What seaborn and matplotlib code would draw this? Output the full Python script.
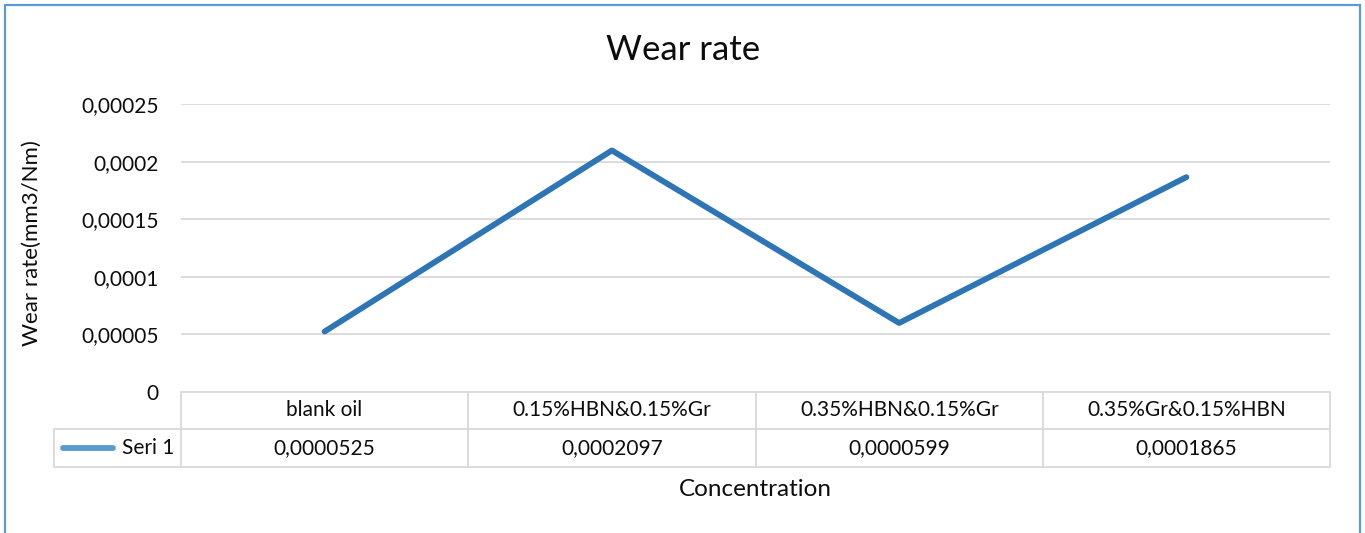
import numpy as np
import pandas as pd
import seaborn as sns
import matplotlib.pyplot as plt
from matplotlib.lines import Line2D
from matplotlib.patches import Rectangle

# data
categories = ['blank oil', '0.15%HBN&0.15%Gr', '0.35%HBN&0.15%Gr', '0.35%Gr&0.15%HBN']
wear_rate = [0.0000525, 0.0002097, 0.0000599, 0.0001865]
table_values = ['0,0000525', '0,0002097', '0,0000599', '0,0001865']
y_ticks = [0, 0.00005, 0.0001, 0.00015, 0.0002, 0.00025]
y_tick_labels = ['0', '0,00005', '0,0001', '0,00015', '0,0002', '0,00025']
series_name = 'Seri 1'

sns.set_style('white')
plt.rcParams['font.family'] = ['Lato', 'DejaVu Sans']
plt.rcParams['text.color'] = '#0D0D0D'
plt.rcParams['ytick.color'] = '#0D0D0D'

df = pd.DataFrame({'pos': np.arange(len(categories)), 'Concentration': categories,
                   'Wear rate': wear_rate})

W, H = 1365, 533
fig = plt.figure(figsize=(W / 100, H / 100), dpi=100)


def fx(px):
    return px / W


def fy(py):
    return 1 - py / H


# plot area in pixel coords: x 181..1330, y 104..392
ax = fig.add_axes([fx(181), fy(392), fx(1330) - fx(181), fy(104) - fy(392)])
sns.lineplot(data=df, x='pos', y='Wear rate', ax=ax, color='#2E75B6', lw=4.2, sort=False)
ax.set_xlim(-0.5, len(categories) - 0.5)
ax.set_ylim(0, 0.00025)
ax.set_xticks([])
ax.set_yticks(y_ticks)
ax.set_yticklabels(y_tick_labels, fontsize=15)
ax.tick_params(axis='y', length=0, pad=16, labelcolor='#0D0D0D')
ax.yaxis.grid(True, color='#D9D9D9', lw=1.3)
ax.set_axisbelow(True)
ax.set_xlabel('')
ax.set_ylabel('')
for s in ax.spines.values():
    s.set_visible(False)

# data table
grid_c = '#D9D9D9'


def hline(x0, x1, y):
    fig.add_artist(Line2D([fx(x0), fx(x1)], [fy(y), fy(y)], color=grid_c, lw=1.3))


def vline(x, y0, y1):
    fig.add_artist(Line2D([fx(x), fx(x)], [fy(y0), fy(y1)], color=grid_c, lw=1.3))


col_edges = [181, 468, 756, 1043, 1330]
hline(181, 1330, 392)
hline(54, 1330, 429)
hline(54, 1330, 467)
vline(54, 429, 467)
for xe in col_edges:
    vline(xe, 392, 467)

for i, (cat, val) in enumerate(zip(categories, table_values)):
    xc = (col_edges[i] + col_edges[i + 1]) / 2
    fig.text(fx(xc), fy(410), cat, ha='center', va='center', fontsize=15)
    fig.text(fx(xc), fy(448), val, ha='center', va='center', fontsize=15)

fig.add_artist(Line2D([fx(63), fx(113)], [fy(448), fy(448)], color='#5B9BD5', lw=4.2))
fig.text(fx(174), fy(448), series_name, ha='right', va='center', fontsize=15)

# titles
fig.text(fx(683), fy(50), 'Wear rate', ha='center', va='center', fontsize=25)
fig.text(fx(755), fy(489), 'Concentration', ha='center', va='center', fontsize=17.5)
fig.text(fx(32), fy(243), 'Wear rate(mm3/Nm)', ha='center', va='center', fontsize=16,
         rotation=90)

# chart border
fig.add_artist(Rectangle((fx(5), fy(545)), fx(1360) - fx(5), fy(5) - fy(545),
                         fill=False, edgecolor='#5B9BD5', lw=1.6, clip_on=False))

fig.savefig('out.png', dpi=100)
